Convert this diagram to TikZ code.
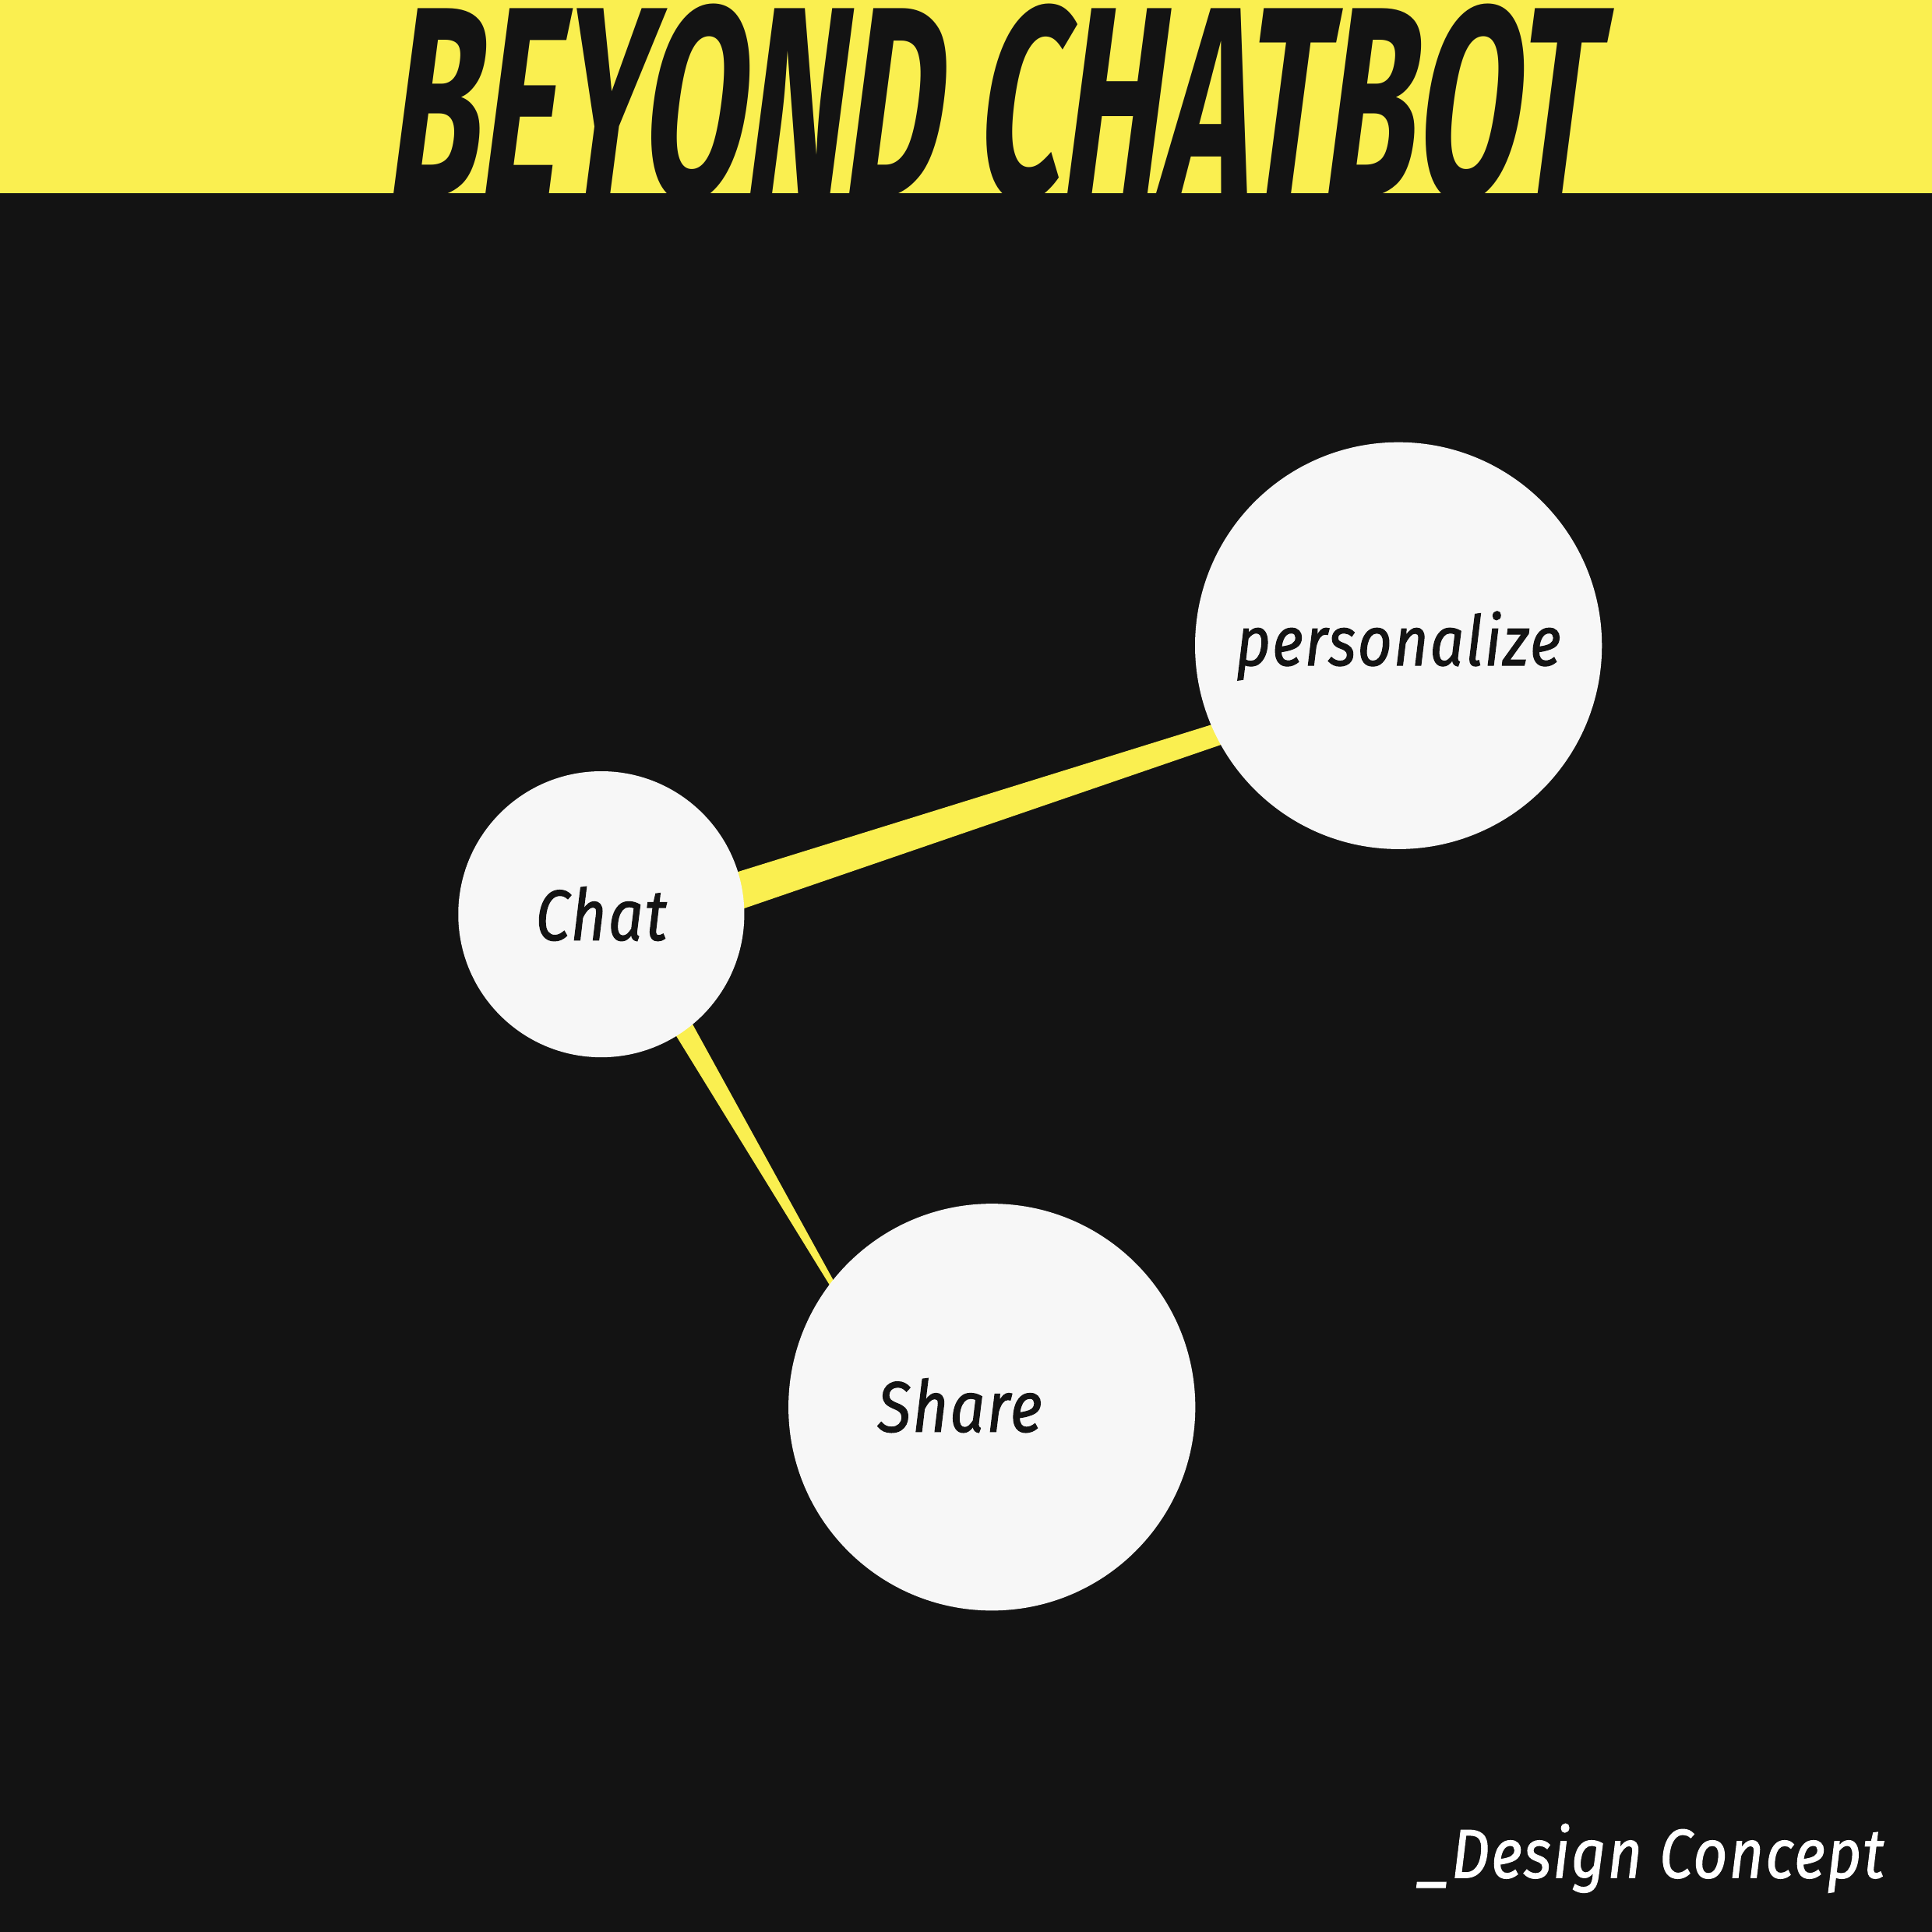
\documentclass[tikz,border=0pt]{standalone}
\usepackage{fontspec}
\usepackage{graphicx}
\usetikzlibrary{calc}
\setmainfont{Fira Sans}
\newfontfamily\titlefont{Fira Sans}
\newfontfamily\labelfont{Fira Sans}[LetterSpace=2.5, FakeStretch=0.86, FakeBold=1.2]
\definecolor{bgc}{HTML}{131313}
\definecolor{ylw}{HTML}{FAEF50}
\definecolor{discc}{HTML}{F7F7F7}
\tikzset{
  disc/.style={circle, fill=discc, draw=none, inner sep=0pt},
  lbl/.style={inner sep=0pt, text=bgc, font=\labelfont\itshape\fontsize{16.5}{16.5}\selectfont},
  foot/.style={inner sep=0pt, text=white, font=\labelfont\itshape\fontsize{16}{16}\selectfont},
  wedge/.style={fill=ylw, draw=none}
}
\begin{document}
\begin{tikzpicture}[x=0.01cm,y=-0.01cm]
\useasboundingbox (0,0) rectangle (1568,1568);
\fill[ylw] (0,0) rectangle (1568,157);
\begin{scope}[shift={(310,165)}, xslant=0.13]
\node[anchor=south west, inner sep=0pt, transform shape, text=bgc] (title) at (0,0)
  {\resizebox{9.78cm}{1.57cm}{\titlefont\bfseries BEYOND CHATBOT}};
\end{scope}
\fill[bgc] (0,157) rectangle (1568,1568);
\coordinate (chatc) at (488,742);
\coordinate (persc) at (1135,524);
\coordinate (sharec) at (805,1142);
\fill[wedge] (chatc) -- ($(chatc)+(0,35)$) -- ($(persc)+(0,31)$) -- ($(persc)+(0,17)$) -- cycle;
\fill[wedge] (chatc) -- ($(chatc)+(25,0)$) -- ($(sharec)+(-83,-20)$) -- cycle;
\node[disc, minimum size=3.3cm] (pers) at (persc) {};
\node[disc, minimum size=2.32cm] (chat) at (chatc) {};
\node[disc, minimum size=3.3cm] (share) at (sharec) {};
\node[lbl, anchor=base, font=\labelfont\itshape\fontsize{16}{16}\selectfont] (tpers) at (1135,540) {personalize};
\node[lbl, anchor=base] (tchat) at (488,763) {Chat};
\node[lbl, anchor=base] (tshare) at (779,1162) {Share};
\node[foot, anchor=base east] (foot) at (1530,1524) {\_Design Concept};
\end{tikzpicture}
\end{document}
